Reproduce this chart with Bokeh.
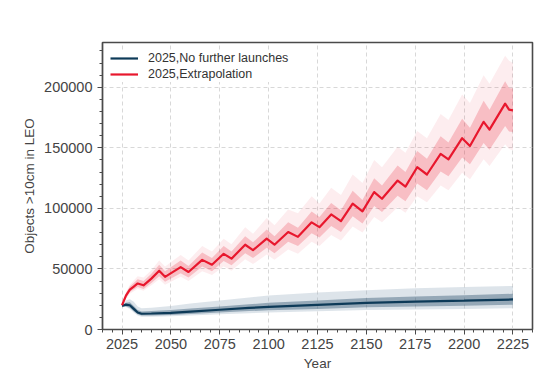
from bokeh.plotting import figure
from bokeh.models import Range1d, SingleIntervalTicker, BasicTickFormatter, Legend, LegendItem
from bokeh.embed import file_html
from bokeh.resources import INLINE

# ---- data (values in objects) ----
red_years = [2025, 2027, 2029, 2031, 2033, 2036, 2040, 2044, 2047, 2055, 2059, 2066, 2071,
             2077, 2081, 2088, 2092, 2099, 2103, 2110, 2115, 2122, 2126, 2132, 2137, 2143,
             2148, 2154, 2158, 2166, 2170, 2176, 2181, 2188, 2192, 2199, 2203, 2210, 2213,
             2221, 2223, 2225]
red_mean_k = [20, 28, 33, 35.5, 38, 36.5, 42, 48.5, 43.5, 51.5, 47.5, 57.5, 53.5,
              62.5, 58.5, 70, 65.5, 75, 70, 80.5, 76.5, 88.5, 84.5, 95, 89.5, 104,
              97.5, 113.5, 108, 123, 118, 134, 128, 145, 140.5, 158, 151.5, 171.5, 165,
              186.5, 181.5, 181]
red_in_lo_k = [20, 26, 31, 33, 35, 33.5, 38.5, 44, 39.5, 46.5, 43, 52, 48,
               56.5, 53, 63, 59, 67.5, 63, 72.5, 69, 79.5, 76, 85.5, 80.5, 93.5,
               87.5, 102, 97, 110.5, 106, 120.5, 115, 130.5, 126.5, 142, 136.5, 154, 148.5,
               168, 163.5, 163]
red_in_hi_k = [20, 30, 35.5, 38.5, 41.5, 40, 46, 53.5, 48, 57, 52.5, 63.5, 59,
               69, 64.5, 77, 72, 82.5, 77, 88.5, 84, 97.5, 93, 104.5, 98.5, 114.5,
               107, 125, 119, 135.5, 130, 147.5, 141, 159.5, 154.5, 174, 166.5, 189, 181.5,
               205, 199.5, 199]
red_out_lo_k = [20, 25, 29.5, 31.5, 33.5, 32, 36.5, 41.5, 37, 43.5, 40, 48, 45,
                52, 48.5, 58, 54, 62, 57.5, 66, 62.5, 72.5, 69, 78, 73.5, 85,
                80, 93, 88.5, 101, 96.5, 110, 105, 119, 115, 129.5, 124, 140.5, 135,
                153, 149, 148]
red_out_hi_k = [20, 31, 37, 40.5, 44, 43, 49, 57, 52, 61.5, 57, 69, 64.5,
                75, 70.5, 84.5, 79, 92, 86, 99, 96, 110, 104, 117, 111, 128,
                121, 140, 134, 151, 146, 164, 158, 178, 173, 194, 187, 210, 203,
                226, 222, 220]

blue_years = [2025, 2027, 2029, 2031, 2033, 2035, 2040, 2050, 2060, 2075, 2090, 2100,
              2125, 2150, 2175, 2200, 2225]
blue_mean_k = [19.5, 20.5, 20, 17, 14, 13, 13.2, 13.8, 14.8, 16.3, 17.8, 18.7,
               20.3, 22, 23, 23.8, 24.8]
blue_in_lo_k = [19.5, 19, 18, 15, 12.5, 11.5, 11.5, 12, 12.8, 14, 15.2, 15.8,
                17, 18.3, 19, 19.7, 20.5]
blue_in_hi_k = [19.5, 22, 22.5, 19.5, 16, 14.8, 15.2, 16, 17.3, 19, 20.8, 22,
                24, 26, 27.3, 28.3, 29.5]
blue_out_lo_k = [19.5, 18.5, 17, 14, 11.5, 10.5, 10.5, 11, 11.5, 12.5, 13.5, 14,
                 15, 16, 16.5, 17, 17.5]
blue_out_hi_k = [19.5, 24, 25, 23, 19, 17.5, 18, 19.5, 21.5, 24, 26.5, 28,
                 30.5, 32.5, 34, 35, 36]

series_labels = ["2025,No further launches", "2025,Extrapolation"]
BLUE = "#0d3a58"
RED = "#e8172d"
FONT = "Liberation Sans"


def k(vals):
    return [v * 1000 for v in vals]


p = figure(width=544, height=383, output_backend="svg", toolbar_location=None,
           x_range=Range1d(2015, 2235), y_range=Range1d(0, 237000),
           min_border_left=102, min_border_right=12, min_border_top=42, min_border_bottom=54)
p.background_fill_color = "white"
p.border_fill_color = "white"
p.outline_line_color = "#4a4a4a"
p.outline_line_width = 1.6

# ensemble spread, blue
p.varea(x=blue_years, y1=k(blue_out_lo_k), y2=k(blue_out_hi_k), fill_color="#9fb3c2", fill_alpha=0.35)
p.varea(x=blue_years, y1=k(blue_in_lo_k), y2=k(blue_in_hi_k), fill_color=BLUE, fill_alpha=0.35)
r_blue = p.line(blue_years, k(blue_mean_k), line_color=BLUE, line_width=2.2)

# ensemble spread, red
p.varea(x=red_years, y1=k(red_out_lo_k), y2=k(red_out_hi_k), fill_color=RED, fill_alpha=0.08)
p.varea(x=red_years, y1=k(red_in_lo_k), y2=k(red_in_hi_k), fill_color=RED, fill_alpha=0.22)
r_red = p.line(red_years, k(red_mean_k), line_color=RED, line_width=2.2, line_join="round")

# axes
p.xaxis.ticker = SingleIntervalTicker(interval=25, num_minor_ticks=5)
p.yaxis.ticker = SingleIntervalTicker(interval=50000, num_minor_ticks=5)
p.yaxis.formatter = BasicTickFormatter(use_scientific=False)
for ax in (p.xaxis[0], p.yaxis[0]):
    ax.axis_line_color = "#4a4a4a"
    ax.axis_line_width = 1.2
    ax.major_tick_in = 0
    ax.major_tick_out = 5
    ax.minor_tick_in = 0
    ax.minor_tick_out = 3
    ax.major_tick_line_color = "#4a4a4a"
    ax.minor_tick_line_color = "#4a4a4a"
    ax.major_label_text_font = FONT
    ax.major_label_text_font_size = "14.5px"
    ax.major_label_text_color = "#444444"
    ax.axis_label_text_font = FONT
    ax.axis_label_text_font_size = "13.5px"
    ax.axis_label_text_font_style = "normal"
    ax.axis_label_text_color = "#444444"
p.xaxis.axis_label = "Year"
p.yaxis.axis_label = "Objects >10cm in LEO"
p.xaxis.major_label_standoff = 4
p.yaxis.major_label_standoff = 5
p.xaxis.axis_label_standoff = 4
p.yaxis.axis_label_standoff = 4

for g in (p.xgrid[0], p.ygrid[0]):
    g.grid_line_color = "#d4d4d4"
    g.grid_line_dash = "4 3"
    g.grid_line_width = 0.9

legend = Legend(items=[LegendItem(label=series_labels[0], renderers=[r_blue]),
                       LegendItem(label=series_labels[1], renderers=[r_red])],
                location="top_left")
legend.border_line_color = None
legend.background_fill_color = "white"
legend.background_fill_alpha = 1.0
legend.label_text_font = FONT
legend.label_text_font_size = "12.5px"
legend.label_text_color = "#333333"
legend.glyph_width = 28
legend.glyph_height = 16
legend.label_height = 16
legend.label_standoff = 10
legend.spacing = 0
legend.padding = 6
legend.margin = 8
p.add_layout(legend)

open("out.html", "w").write(file_html(p, INLINE))
